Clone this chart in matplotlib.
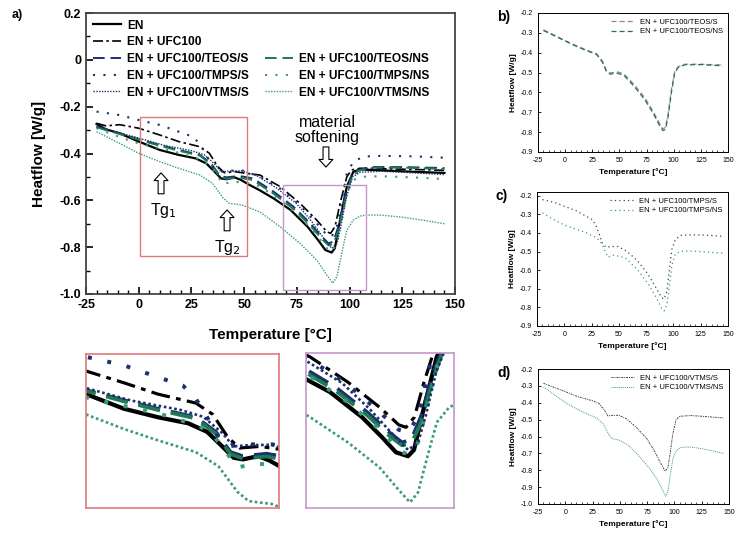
import matplotlib
matplotlib.use('Agg')
import matplotlib.pyplot as plt
from matplotlib.lines import Line2D
from matplotlib.patches import Rectangle

plt.rcParams['font.family'] = ['Liberation Sans', 'DejaVu Sans']
plt.rcParams['axes.unicode_minus'] = False

# ---- data: temperature [°C], heat flow [W/g] ----
t_en = [-20, -15.5, -9, 0, 10, 19, 27, 32, 36, 39, 41.5, 45.5, 48.5, 52.5, 57, 64, 72, 80, 85,
        88.5, 91.5, 93, 95.5, 98.7, 101.8, 105, 115, 130, 145]
hf_en = [-0.274, -0.297, -0.314, -0.349, -0.385, -0.406, -0.421, -0.442, -0.478, -0.506, -0.510,
         -0.502, -0.513, -0.534, -0.555, -0.592, -0.641, -0.712, -0.769, -0.812, -0.823, -0.805,
         -0.684, -0.541, -0.478, -0.468, -0.472, -0.478, -0.483]

t_ufc = [-20, -15.5, -9, 0, 10, 19, 29, 33.5, 37.5, 40.6, 46, 51, 57.5, 67, 76.5, 84.4, 89.2, 91,
         93.1, 95.5, 98.7, 101, 105, 115, 130, 145]
hf_ufc = [-0.271, -0.282, -0.277, -0.292, -0.321, -0.349, -0.371, -0.399, -0.456, -0.482, -0.478,
          -0.485, -0.492, -0.541, -0.613, -0.684, -0.734, -0.741, -0.712, -0.613, -0.499, -0.470,
          -0.463, -0.465, -0.468, -0.472]

t_teos = [-20, -9, 0, 10, 19, 29, 34.3, 38.2, 41.4, 47.7, 54, 64, 73.4, 81.3, 86.8, 90, 92.3, 94.7,
          97.9, 101, 104.2, 110, 125, 145]
hf_teos_s = [-0.285, -0.314, -0.339, -0.364, -0.385, -0.406, -0.442, -0.492, -0.502, -0.496, -0.506,
             -0.563, -0.627, -0.698, -0.755, -0.784, -0.776, -0.712, -0.584, -0.492, -0.470, -0.458,
             -0.458, -0.462]
hf_teos_ns = [-0.288, -0.317, -0.341, -0.367, -0.388, -0.409, -0.447, -0.497, -0.508, -0.503, -0.513,
              -0.572, -0.637, -0.707, -0.765, -0.792, -0.787, -0.730, -0.600, -0.500, -0.474, -0.461,
              -0.460, -0.466]

t_tmps_s = [-20, -9, 0, 10, 19, 25.6, 28.8, 32, 35, 38.2, 43, 49.3, 57.5, 67, 76.5, 84.4, 89.2, 91.5,
            94, 96.3, 98.7, 101.8, 106.6, 115, 130, 145]
hf_tmps_s = [-0.221, -0.236, -0.257, -0.278, -0.307, -0.328, -0.357, -0.406, -0.456, -0.477, -0.473,
             -0.473, -0.499, -0.549, -0.620, -0.698, -0.748, -0.755, -0.712, -0.598, -0.485, -0.435,
             -0.413, -0.410, -0.412, -0.418]

t_tmps_ns = [-20, -9, 0, 10, 20, 30, 34, 37, 40, 45, 52, 57.5, 67, 76.5, 84.4, 89.2, 91.5, 94, 96.3,
             98.7, 101.8, 106.6, 115, 130, 145]
hf_tmps_ns = [-0.292, -0.330, -0.357, -0.378, -0.399, -0.428, -0.455, -0.492, -0.530, -0.520, -0.527,
              -0.541, -0.598, -0.670, -0.748, -0.805, -0.819, -0.784, -0.684, -0.570, -0.513, -0.499,
              -0.497, -0.502, -0.509]

t_vtms_s = [-20, -9, 0, 12, 25, 31, 36, 39, 43, 49, 56, 65, 75, 82, 88, 91.5, 94, 96, 98.5, 101.5,
            105, 115, 125, 145]
hf_vtms_s = [-0.285, -0.312, -0.334, -0.365, -0.388, -0.405, -0.445, -0.478, -0.475, -0.474, -0.495,
             -0.545, -0.615, -0.690, -0.765, -0.805, -0.785, -0.705, -0.585, -0.500, -0.480, -0.476,
             -0.480, -0.490]

t_vtms_ns = [-20, -9, 0, 10, 19, 29, 35, 40, 43, 49, 57.5, 67, 76.5, 84.4, 89.2, 92, 94, 96.3, 98.7,
             101.8, 105, 108, 115, 125, 135, 145]
hf_vtms_ns = [-0.307, -0.357, -0.399, -0.435, -0.463, -0.492, -0.527, -0.590, -0.613, -0.620, -0.650,
              -0.712, -0.784, -0.855, -0.919, -0.954, -0.926, -0.826, -0.727, -0.684, -0.667, -0.663,
              -0.663, -0.672, -0.685, -0.700]

labels = ['EN', 'EN + UFC100', 'EN + UFC100/TEOS/S', 'EN + UFC100/TEOS/NS',
          'EN + UFC100/TMPS/S', 'EN + UFC100/TMPS/NS', 'EN + UFC100/VTMS/S', 'EN + UFC100/VTMS/NS']

NAVY = '#1c2f6e'
GREEN = '#1d7a52'
TEAL = '#3a9a7c'

series = [
    (t_en, hf_en, dict(color='black', ls='-', lw=1.6)),
    (t_ufc, hf_ufc, dict(color='black', ls=(0, (6, 2, 1.5, 2)), lw=1.2)),
    (t_teos, hf_teos_s, dict(color=NAVY, ls=(0, (6, 3)), lw=1.4)),
    (t_teos, hf_teos_ns, dict(color=GREEN, ls=(0, (6, 3)), lw=1.4)),
    (t_tmps_s, hf_tmps_s, dict(color=NAVY, ls=(0, (1, 4)), lw=1.5)),
    (t_tmps_ns, hf_tmps_ns, dict(color=TEAL, ls=(0, (1, 4)), lw=1.5)),
    (t_vtms_s, hf_vtms_s, dict(color=NAVY, ls=(0, (1, 1)), lw=1.0)),
    (t_vtms_ns, hf_vtms_ns, dict(color=TEAL, ls=(0, (1, 1)), lw=1.0)),
]

W, H = 742, 537
fig = plt.figure(figsize=(W / 100, H / 100), dpi=100)


def px_axes(x0, y0, x1, y1):
    return fig.add_axes([x0 / W, 1 - y1 / H, (x1 - x0) / W, (y1 - y0) / H])


# ---- main panel a) ----
ax = px_axes(86, 13, 455, 294)
lines = []
for (t, hf, st), lab in zip(series, labels):
    ln, = ax.plot(t, hf, label=lab, **st)
    lines.append(ln)
ax.set_xlim(-25, 150)
ax.set_ylim(-1.0, 0.2)
ax.set_xticks(range(-25, 151, 25))
ax.set_xticks(range(-25, 151, 5), minor=True)
ax.set_yticks([0.2, 0, -0.2, -0.4, -0.6, -0.8, -1.0])
ax.set_yticklabels(['0.2', '0', '-0.2', '-0.4', '-0.6', '-0.8', '-1.0'])
ax.set_yticks([0.1, -0.1, -0.3, -0.5, -0.7, -0.9], minor=True)
ax.tick_params(direction='in', labelsize=9, width=1.2, length=5, top=False, right=False)
ax.tick_params(which='minor', direction='in', length=3, width=1)
for lab in ax.get_xticklabels() + ax.get_yticklabels():
    lab.set_fontweight('bold')
for sp in ax.spines.values():
    sp.set_color('#444444')
    sp.set_linewidth(1.3)
ax.set_xlabel('Temperature [°C]', fontsize=11, fontweight='bold', labelpad=12)
ax.set_ylabel('Heatflow [W/g]', fontsize=11, fontweight='bold', labelpad=10)

blank = Line2D([], [], ls='none')
handles = [lines[0], lines[1], lines[2], lines[4], lines[6],
           blank, blank, lines[3], lines[5], lines[7]]
hlabels = [labels[0], labels[1], labels[2], labels[4], labels[6],
           '', '', labels[3], labels[5], labels[7]]
ax.legend(handles, hlabels, ncol=2, loc='upper left', bbox_to_anchor=(0.0, 1.0),
          frameon=False, prop=dict(weight='bold', size=8.6), handlelength=2.4,
          labelspacing=0.4, columnspacing=1.3, handletextpad=0.5, borderaxespad=0.2,
          borderpad=0.35)

ax.add_patch(Rectangle((0.5, -0.838), 51, 0.594, fill=False, ec='#e07a7a', lw=1.0, zorder=5))
ax.add_patch(Rectangle((68.4, -0.984), 39.4, 0.449, fill=False, ec='#c596cc', lw=1.0, zorder=5))

arrow = dict(arrowstyle='simple,head_width=1.0,head_length=0.55,tail_width=0.42',
             fc='white', ec='black', lw=0.8, mutation_scale=10, shrinkA=0, shrinkB=0)
ax.annotate('', xy=(10.6, -0.483), xytext=(10.6, -0.572), arrowprops=arrow)
ax.annotate('', xy=(41.9, -0.641), xytext=(41.9, -0.730), arrowprops=arrow)
ax.annotate('', xy=(88.8, -0.458), xytext=(88.8, -0.372), arrowprops=arrow)
ax.text(11.5, -0.642, 'Tg$_1$', ha='center', va='center', fontsize=11.5)
ax.text(41.9, -0.800, 'Tg$_2$', ha='center', va='center', fontsize=11.5)
ax.text(89.3, -0.300, 'material\nsoftening', ha='center', va='center', fontsize=11.5,
        linespacing=1.0)
fig.text(12 / W, 1 - 15 / H, 'a)', fontsize=9, fontweight='bold', va='center')

# ---- zoomed insets ----
def inset(x0, y0, x1, y1, xlim, ylim, edge):
    a = px_axes(x0, y0, x1, y1)
    for t, hf, st in series:
        s = dict(st)
        s['lw'] = st['lw'] * 1.9
        a.plot(t, hf, **s)
    a.set_xlim(*xlim)
    a.set_ylim(*ylim)
    a.set_xticks([])
    a.set_yticks([])
    for sp in a.spines.values():
        sp.set_color(edge)
        sp.set_linewidth(1.2)
    return a


inset(86, 354, 279, 508, (0, 51), (-0.63, -0.25), '#e07a7a')
inset(306, 353, 454, 508, (66, 103), (-0.97, -0.53), '#c596cc')

# ---- right panels b), c), d) ----
GRAY = '#8a8a8a'
DARK = '#444444'
LTEAL = '#3f9a88'


def small_panel(box, ylim, yticks, items, tag):
    a = px_axes(*box)
    for t, hf, lab, st in items:
        a.plot(t, hf, label=lab, **st)
    a.set_xlim(-25, 150)
    a.set_ylim(*ylim)
    a.set_xticks(range(-25, 151, 25))
    a.set_xticks(range(-25, 151, 5), minor=True)
    a.set_yticks(yticks)
    a.set_yticklabels(['%.1f' % v for v in yticks])
    a.tick_params(direction='in', labelsize=5, length=2.5, width=0.6)
    a.tick_params(which='minor', direction='in', length=1.5, width=0.5)
    for sp in a.spines.values():
        sp.set_linewidth(0.7)
    a.set_xlabel('Temperature [°C]', fontsize=6, fontweight='bold', labelpad=3)
    a.set_ylabel('Heatflow [W/g]', fontsize=6, fontweight='bold', labelpad=3)
    a.legend(loc='upper right', frameon=False, fontsize=5.5, handlelength=3,
             labelspacing=0.3, borderaxespad=0.3)
    fig.text(box[0] / W - 41 / W, 1 - (box[1] + 4) / H, tag, fontsize=10,
             fontweight='bold', va='center')
    return a


yt9 = [-0.9, -0.8, -0.7, -0.6, -0.5, -0.4, -0.3, -0.2]
small_panel((538, 13, 728, 152), (-0.9, -0.2), yt9,
            [(t_teos, hf_teos_s, labels[2], dict(color=GRAY, ls=(0, (4, 2.5)), lw=0.9)),
             (t_teos, hf_teos_ns, labels[3], dict(color='#2b6f62', ls=(0, (4, 2.5)), lw=0.9))],
            'b)')
small_panel((537, 192, 728, 326), (-0.9, -0.18), yt9,
            [(t_tmps_s, hf_tmps_s, labels[4], dict(color=DARK, ls=(0, (1, 2.5)), lw=0.9)),
             (t_tmps_ns, hf_tmps_ns, labels[5], dict(color=LTEAL, ls=(0, (1, 2.5)), lw=0.9))],
            'c)')
small_panel((538, 369, 729, 504), (-1.0, -0.2), [-1.0] + yt9,
            [(t_vtms_s, hf_vtms_s, labels[6], dict(color=DARK, ls=(0, (2, 1, 1, 1)), lw=0.7)),
             (t_vtms_ns, hf_vtms_ns, labels[7], dict(color=LTEAL, ls=(0, (1, 1)), lw=0.7))],
            'd)')

fig.savefig('out.png', dpi=100)
